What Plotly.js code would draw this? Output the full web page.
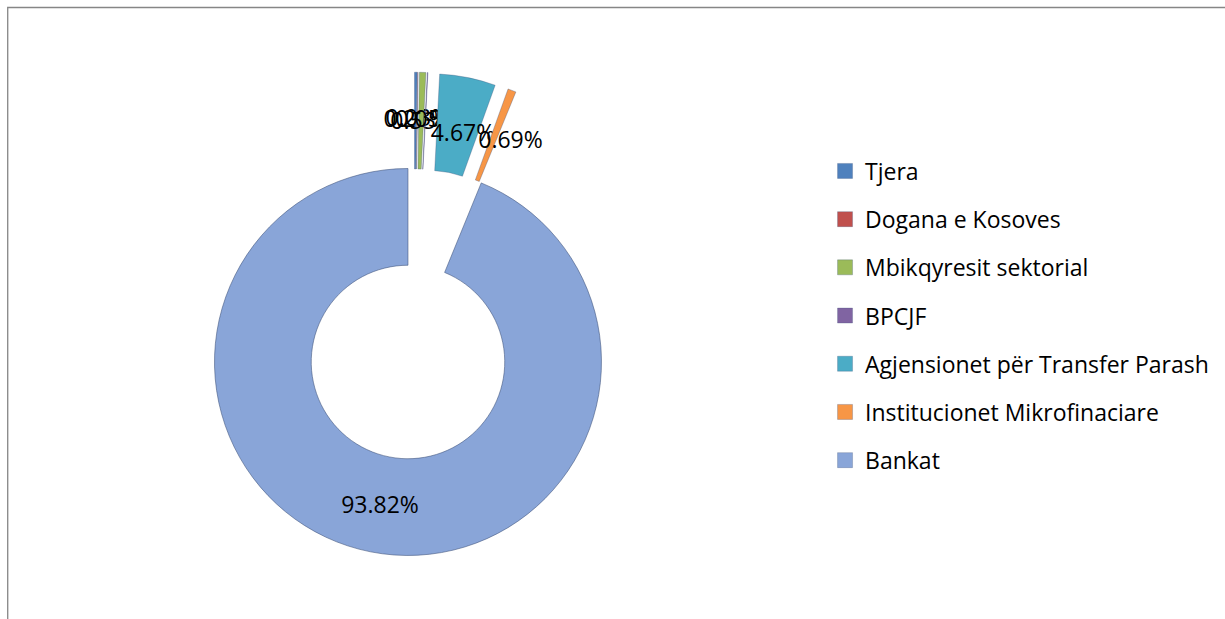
<!DOCTYPE html>
<html>
<head>
<meta charset="utf-8">
<script src="https://cdn.plot.ly/plotly-3.0.1.min.js"></script>
<style>
  html, body { margin: 0; padding: 0; background: #fff; overflow: hidden; }
  #plot { width: 1225px; height: 619px; }
</style>
</head>
<body>
<div id="plot"></div>
<script>
// categories, in the order the slices go round (clockwise from 12 o'clock)
let labels = [
  "Tjera",
  "Dogana e Kosoves",
  "Mbikqyresit sektorial",
  "BPCJF",
  "Agjensionet për Transfer Parash",
  "Institucionet Mikrofinaciare",
  "Bankat",
];

// shares in percent
let shares = [0.21, 0.03, 0.53, 0.05, 4.67, 0.69, 93.82];

let colors = ["#4F81BD", "#C0504D", "#9BBB59", "#8064A2", "#4BACC6", "#F79646", "#89A5D8"];

let font = { family: "Open Sans, sans-serif", size: 23, color: "#000" };
let edge = "rgba(60,80,120,0.55)";
let isMain = labels.map((l) => l === "Bankat");

// blank lines above a label push it down towards the middle of the ring
let padLines = [3, 3, 3, 3, 2, 3, 0];
let pct = "%{percent:.2%}";

// main ring: only Bankat is drawn here, the rest is left empty
let ring = {
  type: "pie",
  labels: labels,
  values: shares,
  sort: false,
  direction: "clockwise",
  rotation: 0,
  hole: 0.5,
  domain: { x: [0.1751, 0.491], y: [0.1026, 0.7278] },
  marker: {
    colors: colors.map((c, i) => (isMain[i] ? c : "rgba(0,0,0,0)")),
    line: { color: edge, width: isMain.map((m) => (m ? 1 : 0)) },
  },
  texttemplate: isMain.map((m) => (m ? pct : "")),
  textposition: "inside",
  insidetextorientation: "horizontal",
  textfont: font,
  showlegend: false,
  hoverinfo: "label+percent",
};

// exploded small slices
let exploded = {
  type: "pie",
  labels: labels,
  values: shares,
  sort: false,
  direction: "clockwise",
  rotation: 0,
  hole: 0.5,
  pull: isMain.map((m) => (m ? 0 : 0.413)),
  domain: { x: [0.1148, 0.5611], y: [0, 0.8834] },
  marker: {
    colors: colors.map((c, i) => (isMain[i] ? "rgba(0,0,0,0)" : c)),
    line: { color: edge, width: isMain.map((m) => (m ? 0 : 0.6)) },
  },
  texttemplate: isMain.map((m, i) => (m ? "" : "\u00a0<br>".repeat(padLines[i]) + pct)),
  textposition: "inside",
  insidetextorientation: "horizontal",
  textfont: font,
  showlegend: false,
  hoverinfo: "label+percent",
};

// legend entries (one per category, so the rows can be spaced out)
let legendItems = labels.map((l, i) => ({
  type: "scatter",
  mode: "markers",
  x: [null],
  y: [null],
  name: l,
  legendgroup: l,
  marker: { symbol: "square", size: 15, color: colors[i], line: { color: edge, width: 0.5 } },
}));

let data = [ring, exploded].concat(legendItems);

let layout = {
  width: 1225,
  height: 619,
  margin: { l: 0, r: 0, t: 0, b: 0 },
  paper_bgcolor: "#fff",
  plot_bgcolor: "#fff",
  font: font,
  uniformtext: { minsize: 23, mode: "show" },
  xaxis: { visible: false },
  yaxis: { visible: false },
  showlegend: true,
  legend: {
    x: 0.6735,
    xanchor: "left",
    y: 0.7585,
    yanchor: "top",
    traceorder: "grouped",
    tracegroupgap: 15.3,
    font: font,
    bgcolor: "rgba(0,0,0,0)",
  },
  shapes: [
    {
      type: "rect",
      xref: "paper",
      yref: "paper",
      x0: 0.0063,
      x1: 1.1,
      y0: -0.1,
      y1: 0.9879,
      line: { color: "#868686", width: 1.3 },
    },
  ],
};

Plotly.newPlot("plot", data, layout, { displayModeBar: false });
</script>
</body>
</html>
